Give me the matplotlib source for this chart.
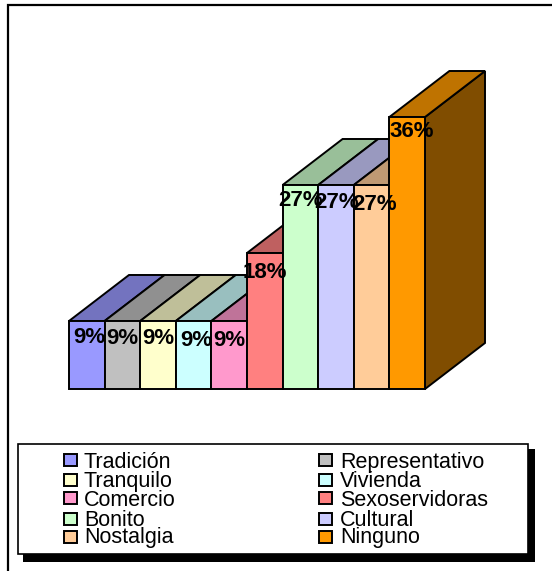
import matplotlib
matplotlib.use("Agg")
import matplotlib.pyplot as plt
from matplotlib.colors import to_rgb
from matplotlib.patches import Polygon, Rectangle

categorias = ["Tradición", "Representativo", "Tranquilo", "Vivienda", "Comercio",
              "Sexoservidoras", "Bonito", "Cultural", "Nostalgia", "Ninguno"]
valores = [9, 9, 9, 9, 9, 18, 27, 27, 27, 36]
colores = ["#9999FF", "#C0C0C0", "#FFFFCC", "#CCFFFF", "#FF99CC",
           "#FF8080", "#CCFFCC", "#CCCCFF", "#FFCC99", "#FF9900"]

W, H = 552, 571
PROF_X, PROF_Y = 1.685, 6.09   # profundidad 3D en unidades de datos

# desplazamiento de cada etiqueta respecto al centro de la barra (px)
ajuste_x = [3, 0, 0, 3, 0, 0, 0, 1, 3, 4]
ajuste_y = [-16, -17, -17, -19, -19, -19, -15, -17, -19, -14]

FUENTE = ["Liberation Sans", "DejaVu Sans"]


def oscuro(color, f):
    return tuple(c * f for c in to_rgb(color))


fig = plt.figure(figsize=(W / 100, H / 100), dpi=100)

# fondo en pixeles: marco exterior y leyenda
bg = fig.add_axes([0, 0, 1, 1])
bg.set_xlim(0, W)
bg.set_ylim(H, 0)
bg.axis("off")
bg.plot([8, 8, W], [H, 5, 5], color="black", lw=1.6, solid_joinstyle="miter")

# grafico
ax = fig.add_axes([69 / W, (H - 389) / H, (485 - 69) / W, (389 - 71) / H])
ax.set_xlim(0, len(valores) + PROF_X)
ax.set_ylim(0, max(valores) + PROF_Y)
ax.axis("off")

borde = dict(edgecolor="black", lw=1.4, joinstyle="miter", clip_on=False)
for i, (v, c) in enumerate(zip(valores, colores)):
    lado = [(i + 1, 0), (i + 1 + PROF_X, PROF_Y), (i + 1 + PROF_X, v + PROF_Y), (i + 1, v)]
    tapa = [(i, v), (i + 1, v), (i + 1 + PROF_X, v + PROF_Y), (i + PROF_X, v + PROF_Y)]
    ax.add_patch(Polygon(lado, facecolor=oscuro(c, 0.5), **borde))
    ax.add_patch(Polygon(tapa, facecolor=oscuro(c, 0.75), **borde))
    ax.add_patch(Rectangle((i, 0), 1, v, facecolor=c, **borde))

for i, v in enumerate(valores):
    ax.annotate(f"{v}%", (i + 0.5, v), xytext=(ajuste_x[i] * 0.72, ajuste_y[i] * 0.72),
                textcoords="offset points", ha="center", va="center",
                fontsize=16, fontweight="bold", family=FUENTE, color="black",
                annotation_clip=False, zorder=5)

# leyenda
bg.add_patch(Rectangle((23, 449), 512, 113, facecolor="black", edgecolor="none"))
bg.add_patch(Rectangle((18, 443.5), 510, 110.5, facecolor="white", edgecolor="black", lw=1.2, zorder=2))
filas = [460, 480, 498, 519, 537]
bases = [468, 487, 506, 526, 543]
columnas = [(64, 84), (318.5, 340)]
for i, (nombre, c) in enumerate(zip(categorias, colores)):
    xc, xt = columnas[i % 2]
    bg.add_patch(Rectangle((xc, filas[i // 2] - 6), 13, 12, facecolor=c, edgecolor="black", lw=1.4, zorder=3))
    bg.text(xt, bases[i // 2], nombre, ha="left", va="baseline", fontsize=15.5, family=FUENTE, zorder=3)

fig.savefig("out.png", dpi=100)
